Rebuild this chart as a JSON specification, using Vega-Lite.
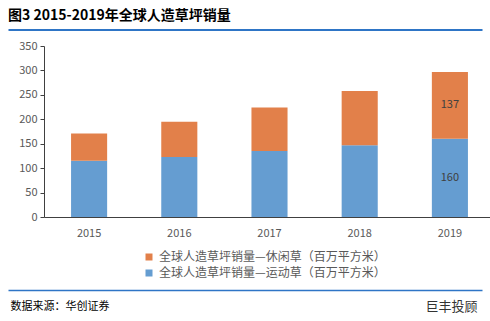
{
  "$schema": "https://vega.github.io/schema/vega-lite/v6.json",
  "width": 451,
  "height": 171,
  "autosize": {"type": "none"},
  "padding": {"left": 44, "top": 46, "right": 0, "bottom": 104},
  "background": "white",
  "config": {
    "view": {"stroke": null},
    "font": "Noto Sans CJK SC",
    "scale": {"bandPaddingInner": 0.6, "bandPaddingOuter": 0.3},
    "axisY": {
      "grid": false,
      "tickSize": 4,
      "tickColor": "#404040",
      "domainColor": "#404040",
      "labelFontSize": 11,
      "labelColor": "#595959",
      "labelPadding": 3,
      "titleAngle": 0,
      "titleX": 381,
      "titleY": 260,
      "titleAlign": "left",
      "titleBaseline": "middle",
      "titleFontSize": 13,
      "titleFontWeight": "normal",
      "titleColor": "#333333"
    }
  },
  "title": {
    "text": "图3 2015-2019年全球人造草坪销量",
    "anchor": "start",
    "frame": "group",
    "fontSize": 14,
    "fontWeight": "bold",
    "color": "#000000",
    "dx": -36,
    "offset": 7
  },
  "datasets": {
    "sales": [
      {"year": "2015", "type": "全球人造草坪销量—运动草（百万平方米）", "value": 115},
      {"year": "2015", "type": "全球人造草坪销量—休闲草（百万平方米）", "value": 56},
      {"year": "2016", "type": "全球人造草坪销量—运动草（百万平方米）", "value": 123},
      {"year": "2016", "type": "全球人造草坪销量—休闲草（百万平方米）", "value": 72},
      {"year": "2017", "type": "全球人造草坪销量—运动草（百万平方米）", "value": 135},
      {"year": "2017", "type": "全球人造草坪销量—休闲草（百万平方米）", "value": 89},
      {"year": "2018", "type": "全球人造草坪销量—运动草（百万平方米）", "value": 147},
      {"year": "2018", "type": "全球人造草坪销量—休闲草（百万平方米）", "value": 111},
      {"year": "2019", "type": "全球人造草坪销量—运动草（百万平方米）", "value": 160},
      {"year": "2019", "type": "全球人造草坪销量—休闲草（百万平方米）", "value": 137}
    ]
  },
  "data": {"name": "sales"},
  "layer": [
    {
      "layer": [
        {
          "mark": {"type": "bar"},
          "encoding": {
            "x": {
              "field": "year",
              "type": "nominal",
              "axis": {
                "labelAngle": 0,
                "ticks": false,
                "tickSize": 0,
                "labelPadding": 10,
                "labelFontSize": 11,
                "labelColor": "#595959",
                "domainColor": "#404040",
                "domainWidth": 1,
                "title": "数据来源：华创证券",
                "titleX": -34,
                "titleY": 89,
                "titleAlign": "left",
                "titleBaseline": "middle",
                "titleFontSize": 11,
                "titleFontWeight": "normal",
                "titleColor": "#000000"
              }
            },
            "y": {
              "field": "value",
              "type": "quantitative",
              "stack": "zero",
              "scale": {"domain": [0, 350], "nice": false},
              "axis": {"values": [0, 50, 100, 150, 200, 250, 300, 350], "title": "巨丰投顾"}
            },
            "color": {
              "field": "type",
              "type": "nominal",
              "scale": {
                "domain": ["全球人造草坪销量—休闲草（百万平方米）", "全球人造草坪销量—运动草（百万平方米）"],
                "range": ["#E2804A", "#659DD1"]
              },
              "legend": {
                "orient": "none",
                "legendX": 99,
                "legendY": 205,
                "direction": "vertical",
                "title": null,
                "symbolType": "square",
                "symbolSize": 49,
                "symbolStrokeWidth": 0,
                "labelFontSize": 12,
                "labelColor": "#595959",
                "labelOffset": 4,
                "labelLimit": 0,
                "rowPadding": 4
              }
            },
            "order": {"field": "type", "sort": "descending"}
          }
        },
        {
          "transform": [
            {"stack": "value", "groupby": ["year"], "sort": [{"field": "type", "order": "descending"}], "as": ["v0", "v1"]},
            {"calculate": "(datum.v0 + datum.v1) / 2", "as": "mid"}
          ],
          "mark": {"type": "text", "fontSize": 11, "color": "#404040"},
          "encoding": {
            "x": {"field": "year", "type": "nominal"},
            "y": {
              "field": "mid",
              "type": "quantitative",
              "axis": {"values": [0, 50, 100, 150, 200, 250, 300, 350], "title": "巨丰投顾"}
            },
            "text": {
              "condition": {"test": "datum.year == '2019'", "field": "value"},
              "value": ""
            }
          }
        }
      ]
    },
    {
      "mark": {"type": "point", "opacity": 0},
      "encoding": {
        "x": {
          "field": "year",
          "type": "nominal",
          "scale": {"range": [-36, 438]},
          "axis": {
            "orient": "top",
            "offset": 16.5,
            "labels": false,
            "ticks": false,
            "grid": false,
            "title": null,
            "domainColor": "#2E75C6",
            "domainWidth": 2
          }
        }
      }
    },
    {
      "mark": {"type": "point", "opacity": 0},
      "encoding": {
        "x": {
          "field": "year",
          "type": "nominal",
          "scale": {"range": [-36, 438]},
          "axis": {
            "orient": "bottom",
            "offset": 73,
            "labels": false,
            "ticks": false,
            "grid": false,
            "title": null,
            "domainColor": "#2E75C6",
            "domainWidth": 1.5
          }
        }
      }
    }
  ],
  "resolve": {"scale": {"x": "independent"}, "axis": {"x": "independent"}}
}
